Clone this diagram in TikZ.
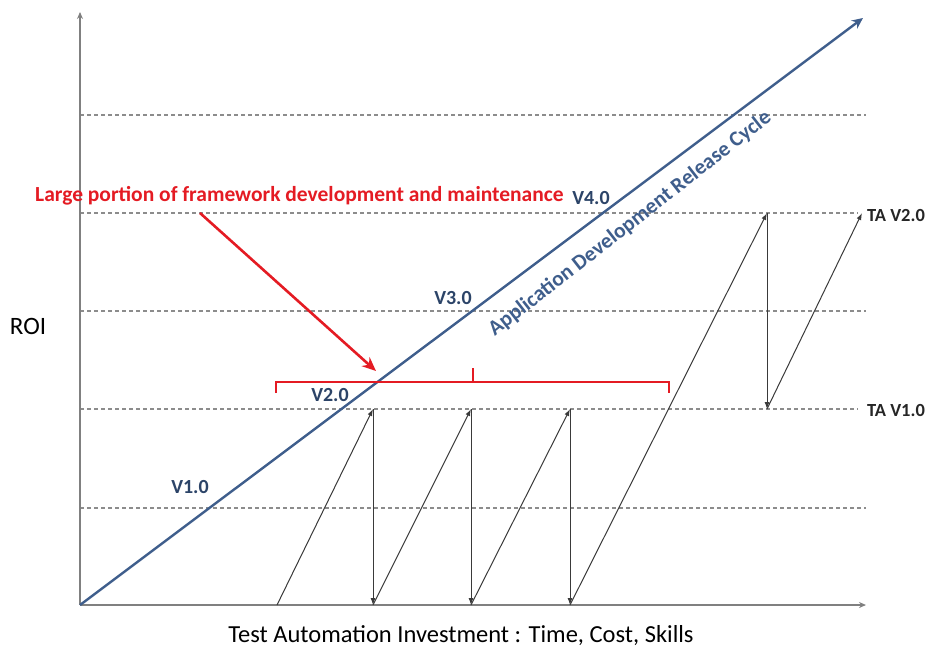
\documentclass[tikz,border=0pt]{standalone}
\usepackage{fontspec}
\setmainfont{Carlito}
\usetikzlibrary{arrows.meta}
\definecolor{axisgray}{HTML}{808080}
\definecolor{dashgray}{HTML}{8C8C8C}
\definecolor{lineblue}{HTML}{3F5E8C}
\definecolor{labelnavy}{HTML}{2C4468}
\definecolor{redmark}{HTML}{E41B23}
\definecolor{arrowgray}{HTML}{3A3A3A}
\tikzset{
  axisline/.style={draw=axisgray, line width=1.5pt, -{Stealth[length=7pt,width=6pt]}},
  gridline/.style={draw=dashgray, line width=1.2pt, dash pattern=on 4pt off 3pt},
  cycleline/.style={draw=lineblue, line width=2.4pt, -{Stealth[length=11pt,width=10pt]}},
  vlabel/.style={text=labelnavy, font=\bfseries\fontsize{20}{22}\selectfont, inner sep=0pt},
  talabel/.style={text=black!85, font=\bfseries\fontsize{18.5}{20}\selectfont, inner sep=0pt, anchor=west},
  saw/.style={draw=arrowgray, line width=1pt, -{Latex[length=7pt,width=5pt]}},
  redarrow/.style={draw=redmark, line width=2.6pt, -{Stealth[length=14pt,width=12pt]}},
  bracketline/.style={draw=redmark, line width=2.6pt},
}
\begin{document}
\begin{tikzpicture}[x=1pt,y=-1pt]
\useasboundingbox (0,0) rectangle (928,651);
% coordinates
\coordinate (O) at (80,605);
\coordinate (Ytop) at (80,12);
\coordinate (Xend) at (866,605);
\coordinate (Cend) at (863,18);
% grid
\foreach \yy in {115,311,508} {\draw[gridline] (80,\yy) -- (866,\yy);}
\draw[gridline] (80,213) -- (858,213);
\draw[gridline] (80,409) -- (858,409);
% axes
\draw[axisline] (O) -- (Ytop);
\draw[axisline] (O) -- (Xend);
% saw arrows
\coordinate (b1) at (277,605);
\coordinate (b2) at (373,605);
\coordinate (b3) at (471,605);
\coordinate (b4) at (570,605);
\coordinate (t2) at (373,409);
\coordinate (t3) at (471,409);
\coordinate (t4) at (570,409);
\coordinate (t5) at (767,213);
\coordinate (m5) at (767,409);
\coordinate (t6) at (862,213);
\draw[saw] (b1) -- (t2);
\draw[saw] (t2) -- (b2);
\draw[saw] (b2) -- (t3);
\draw[saw] (t3) -- (b3);
\draw[saw] (b3) -- (t4);
\draw[saw] (t4) -- (b4);
\draw[saw] (b4) -- (t5);
\draw[saw] (t5) -- (m5);
\draw[saw] (m5) -- (t6);
% main cycle line
\draw[cycleline] (O) -- (Cend);
\node[text=lineblue, font=\bfseries\fontsize{21.5}{23}\selectfont, rotate=38, inner sep=0pt] (cyc) at (630,224) {Application Development Release Cycle};
% version labels
\node[vlabel] (v1) at (190,487) {V1.0};
\node[vlabel] (v2) at (330,395) {V2.0};
\node[vlabel] (v3) at (453,298) {V3.0};
\node[vlabel] (v4) at (591,198) {V4.0};
% TA labels
\node[talabel] (ta2) at (867,215) {TA V2.0};
\node[talabel] (ta1) at (867,410) {TA V1.0};
% red bracket
\draw[bracketline] (276,393) -- (276,382) -- (669,382) -- (669,393);
\draw[bracketline] (473,382) -- (473,368);
% red annotation
\node[text=redmark, font=\bfseries\fontsize{21.5}{23}\selectfont, inner sep=0pt, anchor=west] (note) at (35,196) {Large portion of framework development and maintenance};
\coordinate (rtail) at (200,213);
\coordinate (rhead) at (376,371);
\draw[redarrow] (rtail) -- (rhead);
% axis labels
\node[font=\fontsize{25}{27}\selectfont, inner sep=0pt] (roi) at (28,326) {ROI};
\node[font=\fontsize{24.5}{26}\selectfont, inner sep=0pt] (xlab) at (461,636) {Test Automation Investment : Time, Cost, Skills};
\end{tikzpicture}
\end{document}
